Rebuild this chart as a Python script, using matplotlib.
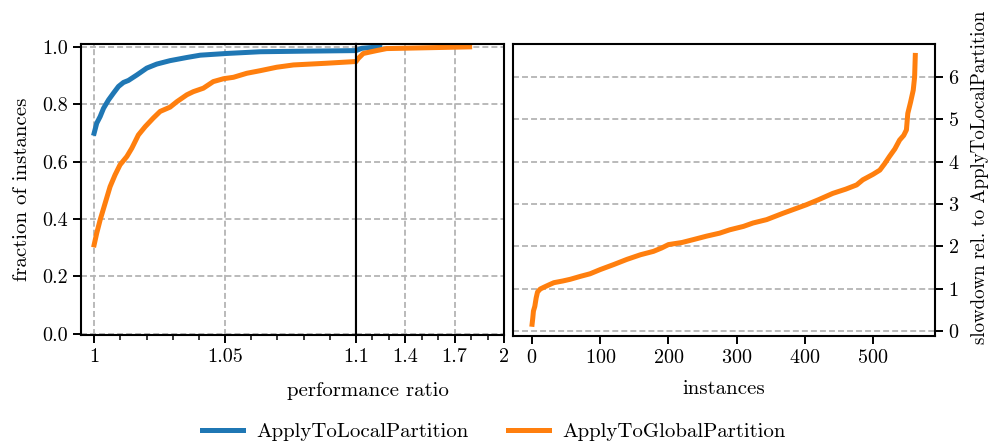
import matplotlib
matplotlib.use("Agg")
import matplotlib.pyplot as plt
from matplotlib.ticker import FixedLocator, MultipleLocator

plt.rcParams['font.family'] = ['cmr10', 'DejaVu Serif']
plt.rcParams['mathtext.fontset'] = 'cm'
plt.rcParams['axes.formatter.use_mathtext'] = True
plt.rcParams['font.size'] = 15
plt.rcParams['xtick.labelsize'] = 14.5
plt.rcParams['ytick.labelsize'] = 14.5

BLUE = '#1f77b4'
ORANGE = '#ff7f0e'

# performance profile, ApplyToLocalPartition
local_ratio = [1.0, 1.001, 1.0023, 1.0036, 1.0055, 1.0074, 1.0093, 1.0112,
               1.0131, 1.0163, 1.0201, 1.0239, 1.029, 1.0354, 1.0405, 1.0506,
               1.0634, 1.08, 1.1, 1.135, 1.2, 1.245]
local_frac = [0.699, 0.734, 0.757, 0.786, 0.815, 0.839, 0.862, 0.876,
              0.883, 0.902, 0.926, 0.940, 0.952, 0.963, 0.971, 0.977,
              0.983, 0.985, 0.987, 0.995, 0.998, 1.0]

# performance profile, ApplyToGlobalPartition
global_ratio = [1.0, 1.001, 1.0023, 1.0042, 1.0061, 1.008, 1.0099, 1.0125,
                1.0144, 1.0169, 1.0195, 1.0226, 1.0252, 1.029, 1.0316, 1.0354,
                1.0379, 1.0417, 1.0455, 1.0494, 1.0532, 1.0583, 1.0634, 1.0697,
                1.0761, 1.0888, 1.1, 1.114, 1.144, 1.225, 1.286, 1.791]
global_frac = [0.310, 0.351, 0.397, 0.455, 0.513, 0.554, 0.589, 0.618,
               0.647, 0.693, 0.722, 0.752, 0.775, 0.790, 0.809, 0.833,
               0.844, 0.856, 0.879, 0.889, 0.894, 0.908, 0.917, 0.929,
               0.937, 0.943, 0.949, 0.960, 0.977, 0.987, 0.994, 1.0]

# sorted slowdown per instance
inst = [0, 1, 2, 4, 6, 8, 12, 17, 25, 32, 45, 56, 71, 85, 100, 120, 139, 159,
        178, 190, 200, 220, 237, 256, 275, 290, 310, 324, 344, 368, 385, 402,
        420, 441, 460, 476, 485, 500, 510, 517, 524, 532, 539, 545, 549, 551,
        555, 559, 561, 562]
slowdown = [0.157, 0.30, 0.47, 0.58, 0.78, 0.92, 0.99, 1.03, 1.09, 1.14, 1.18,
            1.22, 1.29, 1.35, 1.45, 1.57, 1.69, 1.80, 1.88, 1.96, 2.04, 2.09,
            2.16, 2.24, 2.31, 2.39, 2.47, 2.55, 2.63, 2.78, 2.88, 2.98, 3.10,
            3.25, 3.35, 3.45, 3.57, 3.70, 3.80, 3.95, 4.12, 4.30, 4.51, 4.62,
            4.75, 5.14, 5.40, 5.69, 6.0, 6.51]

fig = plt.figure(figsize=(9.99, 4.48), dpi=100)
ax1 = fig.add_axes([0.0811, 0.2522, 0.2753, 0.6496])
ax2 = fig.add_axes([0.3564, 0.2522, 0.1481, 0.6496])
ax3 = fig.add_axes([0.5135, 0.2500, 0.4225, 0.6518])

grid_kw = dict(color='#b4b4b4', linestyle=(0, (3.3, 1.7)), linewidth=1.3)
lw = 3.6

for ax in (ax1, ax2):
    ax.plot(local_ratio, local_frac, color=BLUE, lw=lw, label='ApplyToLocalPartition')
    ax.plot(global_ratio, global_frac, color=ORANGE, lw=lw, label='ApplyToGlobalPartition')
    ax.set_ylim(-0.004, 1.01)
    ax.grid(True, **grid_kw)
    ax.set_axisbelow(True)

ax1.set_xlim(0.995, 1.1)
ax1.xaxis.set_major_locator(FixedLocator([1.0, 1.05, 1.1]))
ax1.set_xticklabels(['1', '1.05', '1.1'])
ax1.xaxis.set_minor_locator(MultipleLocator(0.01))
ax1.set_yticks([0, 0.2, 0.4, 0.6, 0.8, 1.0])
ax1.set_yticklabels(['0.0', '0.2', '0.4', '0.6', '0.8', '1.0'])
ax1.set_ylabel('fraction of instances', labelpad=8)

ax2.set_xlim(1.1, 2.0)
ax2.xaxis.set_major_locator(FixedLocator([1.4, 1.7, 2.0]))
ax2.set_xticklabels(['1.4', '1.7', '2'])
ax2.xaxis.set_minor_locator(FixedLocator([1.2, 1.3, 1.5, 1.6, 1.8, 1.9]))
ax2.set_yticks([0, 0.2, 0.4, 0.6, 0.8, 1.0])
ax2.tick_params(axis='y', left=False, labelleft=False)

ax3.plot(inst, slowdown, color=ORANGE, lw=lw)
ax3.set_ylim(-0.12, 6.78)
ax3.set_xlim(-28, 591)
ax3.set_xticks([0, 100, 200, 300, 400, 500])
ax3.set_yticks([0, 1, 2, 3, 4, 5, 6])
ax3.yaxis.tick_right()
ax3.yaxis.set_label_position('right')
ax3.grid(True, axis='y', **grid_kw)
ax3.set_axisbelow(True)
ax3.set_xlabel('instances', labelpad=9)
ax3.set_ylabel('slowdown rel. to ApplyToLocalPartition', labelpad=8, fontsize=13.6)
ax3.yaxis.label.set_y(0.545)

for ax in (ax1, ax2, ax3):
    for s in ax.spines.values():
        s.set_linewidth(1.5)
    ax.tick_params(which='major', length=6, width=1.4)
    ax.tick_params(which='minor', length=3.5, width=1.1)

fig.text(0.368, 0.128, 'performance ratio', ha='center', va='center')

handles, labels = ax1.get_legend_handles_labels()
fig.legend(handles, labels, loc='center', bbox_to_anchor=(0.494, 0.036), ncol=2,
           frameon=False, handlelength=2.0, handletextpad=0.6, columnspacing=1.9)

fig.savefig('out.png', dpi=100)
